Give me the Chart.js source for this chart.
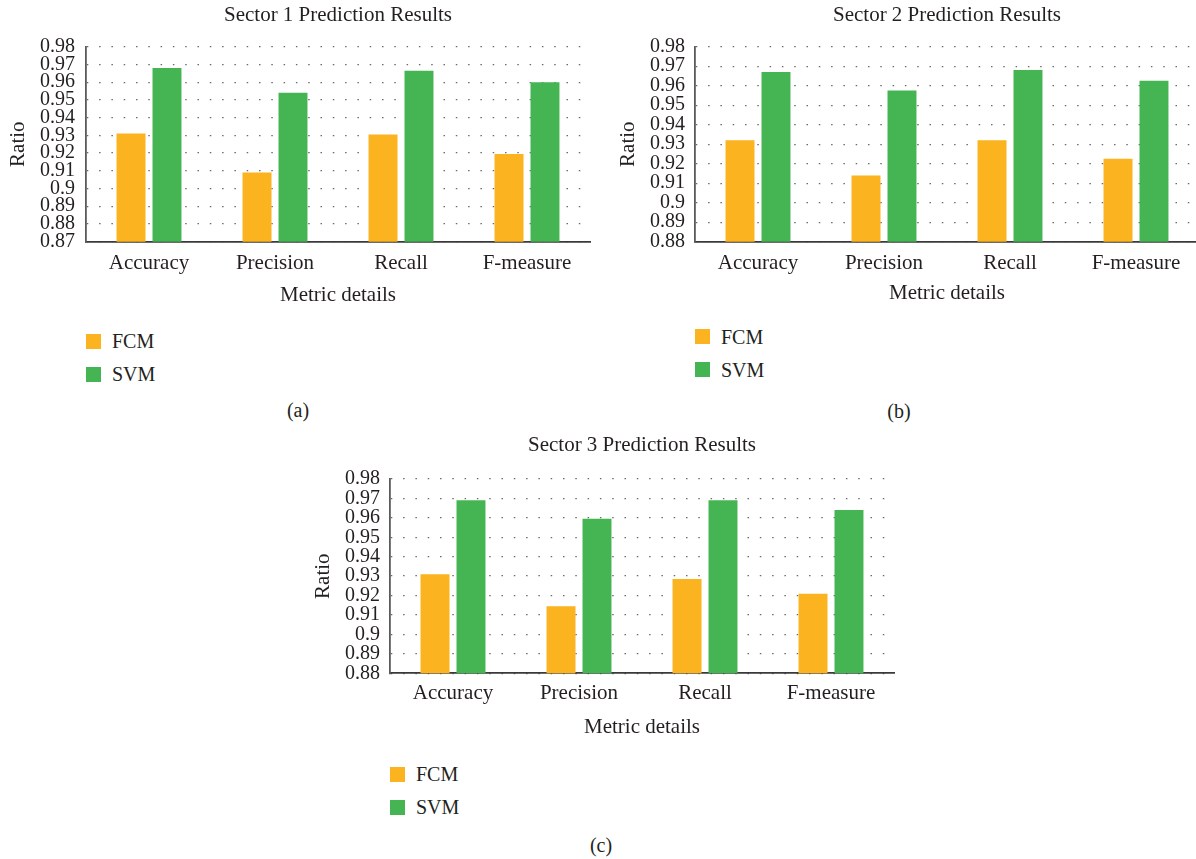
<!DOCTYPE html>
<html>
<head>
<meta charset="utf-8">
<title>Sector Prediction Results</title>
<script src="https://cdn.jsdelivr.net/npm/chart.js@4.4.0/dist/chart.umd.min.js"></script>
<style>
  body { margin: 0; width: 1196px; height: 859px; overflow: hidden; background: #fff; position: relative;
         font-family: 'Liberation Serif', serif; color: #231f20; }
  canvas { position: absolute; }
  .swatch { position: absolute; width: 15px; height: 15px; }
  .label { position: absolute; font-size: 20px; line-height: 24px; white-space: nowrap; }
  .caption { position: absolute; width: 60px; text-align: center; font-size: 20px; line-height: 24px; }
</style>
</head>
<body>
<canvas id="sector1" width="600" height="320" style="left:0;top:0"></canvas>
<canvas id="sector2" width="600" height="320" style="left:600px;top:0"></canvas>
<canvas id="sector3" width="600" height="320" style="left:300px;top:430px"></canvas>

<script>
const metrics = ['Accuracy', 'Precision', 'Recall', 'F-measure'];
const seriesNames = ['FCM', 'SVM'];
const seriesColors = ['#FBB31F', '#45B553'];

const sector1Fcm = [0.931, 0.909, 0.9305, 0.9195];
const sector1Svm = [0.968, 0.954, 0.9665, 0.960];
const sector2Fcm = [0.932, 0.914, 0.932, 0.9225];
const sector2Svm = [0.967, 0.9575, 0.968, 0.9625];
const sector3Fcm = [0.931, 0.9145, 0.9285, 0.921];
const sector3Svm = [0.969, 0.9595, 0.969, 0.964];

const ratioTicksWide = [0.87, 0.88, 0.89, 0.9, 0.91, 0.92, 0.93, 0.94, 0.95, 0.96, 0.97, 0.98];
const ratioTicks = [0.88, 0.89, 0.9, 0.91, 0.92, 0.93, 0.94, 0.95, 0.96, 0.97, 0.98];

const FONT = "'Liberation Serif', serif";
const INK = '#231f20';
Chart.defaults.font.family = FONT;
Chart.defaults.color = INK;

// one grouped bar chart; box holds the per-panel spacing so the plot areas line up
function sectorChart(id, title, fcm, svm, yTicks, box) {
  return new Chart(document.getElementById(id), {
    type: 'bar',
    data: {
      labels: metrics,
      datasets: [fcm, svm].map((values, i) => ({
        label: seriesNames[i],
        data: values,
        backgroundColor: seriesColors[i],
        borderWidth: 0,
        barPercentage: 0.805,
        categoryPercentage: 0.571
      }))
    },
    options: {
      responsive: false,
      animation: false,
      layout: { padding: { right: box.padRight } },
      plugins: {
        legend: { display: false },
        tooltip: { enabled: false },
        title: {
          display: true,
          text: title,
          fullSize: false,
          color: INK,
          font: { size: 21, weight: 'normal' },
          padding: { top: box.titleTop, bottom: box.titleBottom }
        }
      },
      scales: {
        x: {
          grid: { display: false, drawTicks: false },
          border: { display: true, color: '#3a3a3a', width: 1.8 },
          ticks: { padding: box.xTickPad, font: { size: 21 }, color: INK, maxRotation: 0 },
          title: { display: true, text: 'Metric details', font: { size: 21 }, color: INK,
                   padding: { top: 0, bottom: box.xTitleBottom } },
          afterFit: (s) => { s.height = box.xHeight; }
        },
        y: {
          min: yTicks[0],
          max: yTicks[yTicks.length - 1],
          afterBuildTicks: (s) => { s.ticks = yTicks.map((v) => ({ value: v })); },
          grid: { color: '#6a6a6a', lineWidth: 1.3, drawTicks: false },
          border: { display: true, color: '#5a5a5a', width: 1.8, dash: [1.5, 10.8] },
          ticks: { autoSkip: false, padding: box.yTickPad, font: { size: 20 }, color: INK,
                   callback: (v) => String(v) },
          title: { display: true, text: 'Ratio', font: { size: 21 }, color: INK,
                   padding: { top: box.ratioPad, bottom: 0 } },
          afterFit: (s) => { s.width = box.yWidth; }
        }
      }
    }
  });
}

function addLegend(left, firstCenter, step) {
  seriesNames.forEach((name, i) => {
    const cy = firstCenter + i * step;
    const sw = document.createElement('div');
    sw.className = 'swatch';
    sw.style.left = left + 'px';
    sw.style.top = (cy - 7.5) + 'px';
    sw.style.background = seriesColors[i];
    const tx = document.createElement('div');
    tx.className = 'label';
    tx.style.left = (left + 26) + 'px';
    tx.style.top = (cy - 12) + 'px';
    tx.textContent = name;
    document.body.append(sw, tx);
  });
}

function addCaption(text, cx, cy) {
  const c = document.createElement('div');
  c.className = 'caption';
  c.style.left = (cx - 30) + 'px';
  c.style.top = (cy - 12) + 'px';
  c.textContent = text;
  document.body.append(c);
}

sectorChart('sector1', 'Sector 1 Prediction Results', sector1Fcm, sector1Svm, ratioTicksWide, {
  padRight: 10, titleTop: 2.4, titleBottom: 19.1, yWidth: 86, yTickPad: 11, ratioPad: 5.9,
  xHeight: 78.3, xTickPad: 8.7, xTitleBottom: 11.7
});
sectorChart('sector2', 'Sector 2 Prediction Results', sector2Fcm, sector2Svm, ratioTicks, {
  padRight: 1, titleTop: 2.4, titleBottom: 19.1, yWidth: 95, yTickPad: 10, ratioPad: 15.9,
  xHeight: 78.3, xTickPad: 8.7, xTitleBottom: 14.1
});
sectorChart('sector3', 'Sector 3 Prediction Results', sector3Fcm, sector3Svm, ratioTicks, {
  padRight: 6, titleTop: 2.9, titleBottom: 20.9, yWidth: 90, yTickPad: 10, ratioPad: 10.9,
  xHeight: 76.7, xTickPad: 7.8, xTitleBottom: 9.9
});

addLegend(86, 341, 33);
addLegend(695, 336.5, 33);
addLegend(390, 774, 33);

addCaption('(a)', 298, 410);
addCaption('(b)', 899, 411);
addCaption('(c)', 601, 845);
</script>
</body>
</html>
